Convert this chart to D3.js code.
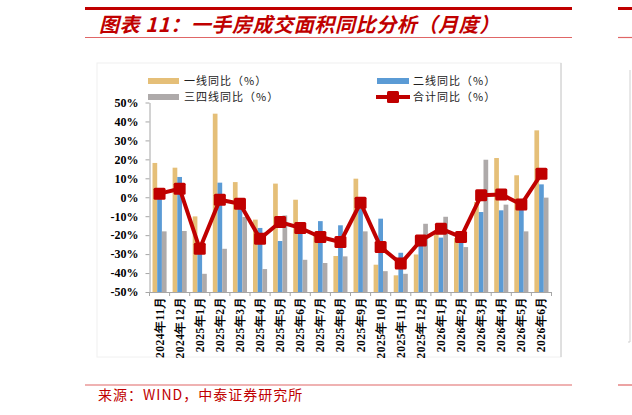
<!DOCTYPE html>
<html><head><meta charset="utf-8">
<script src="https://cdn.jsdelivr.net/npm/d3@7"></script>
<style>body{margin:0;background:#fff}svg{display:block}</style>
</head><body>
<script>
const categories = ["2024年11月","2024年12月","2025年1月","2025年2月","2025年3月","2025年4月","2025年5月","2025年6月","2025年7月","2025年8月","2025年9月","2025年10月","2025年11月","2025年12月","2026年1月","2026年2月","2026年3月","2026年4月","2026年5月","2026年6月"];
const tier1 = [18.1,15.6,-10.1,44.1,8.0,-11.8,7.2,-1.3,-20.0,-31.0,9.8,-35.6,-41.2,-30.2,-19.2,-21.5,-2.5,20.7,11.6,35.3];
const tier2 = [1.0,10.7,-29.0,7.7,-5.2,-16.2,-23.1,-13.1,-12.6,-14.8,-6.0,-11.3,-29.3,-25.4,-21.3,-23.6,-7.8,-6.9,-6.0,6.8];
const tier34 = [-18.0,-17.8,-40.4,-27.2,-10.4,-37.9,-9.6,-33.0,-34.7,-31.2,-18.0,-39.0,-40.4,-14.0,-10.3,-26.3,19.8,-3.9,-18.0,-0.2];
const total = [1.9,4.5,-27.2,-1.3,-3.4,-21.9,-13.1,-16.2,-21.0,-23.6,-2.9,-26.3,-35.0,-22.8,-16.6,-21.0,1.0,1.5,-3.8,12.4];
const yTicks = [-50,-40,-30,-20,-10,0,10,20,30,40,50];
const seriesNames = ["一线同比（%）","二线同比（%）","三四线同比（%）","合计同比（%）"];
const colors = {t1:"#E5BF78", t2:"#5B9BD5", t34:"#AEAAAA", total:"#C00000"};

const W=632,H=415;
const svg=d3.select("body").append("svg").attr("width",W).attr("height",H);

const red="#C00000", lightRed="#E06666";
svg.append("line").attr("x1",85).attr("x2",572).attr("y1",8.5).attr("y2",8.5).attr("stroke",red).attr("stroke-width",3);
svg.append("line").attr("x1",618).attr("x2",632).attr("y1",8.5).attr("y2",8.5).attr("stroke",red).attr("stroke-width",3);
svg.append("line").attr("x1",85).attr("x2",572).attr("y1",37.5).attr("y2",37.5).attr("stroke",lightRed).attr("stroke-width",1.2);
svg.append("line").attr("x1",618).attr("x2",632).attr("y1",37.5).attr("y2",37.5).attr("stroke",lightRed).attr("stroke-width",1.2);
svg.append("line").attr("x1",85).attr("x2",572).attr("y1",385).attr("y2",385).attr("stroke",lightRed).attr("stroke-width",1.2);
svg.append("line").attr("x1",618).attr("x2",632).attr("y1",385).attr("y2",385).attr("stroke",lightRed).attr("stroke-width",1.2);

svg.append("text").attr("x",99).attr("y",32)
  .attr("font-family","'Noto Sans CJK SC'").attr("font-weight","bold").attr("font-style","italic")
  .attr("font-size",20).attr("letter-spacing",0.6).attr("fill",red).text("图表 11：一手房成交面积同比分析（月度）");
svg.append("text").attr("x",98).attr("y",400)
  .attr("font-family","'Noto Sans CJK SC'").attr("font-size",14).attr("letter-spacing",1).attr("fill",red).text("来源：WIND，中泰证券研究所");

svg.append("rect").attr("x",97).attr("y",63).attr("width",464).attr("height",294).attr("fill","none").attr("stroke","#F0F0F0");
svg.append("line").attr("x1",561).attr("x2",561).attr("y1",63).attr("y2",357).attr("stroke","#C8C8C8");
svg.append("path").attr("d","M630,70V342H628").attr("fill","none").attr("stroke","#D0D0D0");

const x=d3.scaleBand().domain(categories).range([149.5,551.5]).padding(0);
const inner=d3.scaleBand().domain(["t1","t2","t34"]).range([0,x.bandwidth()]).paddingInner(0).paddingOuter(0.64);
const y=d3.scaleLinear().domain([-50,50]).range([292,102.5]);

// bars anchored at the axis minimum (-50%)
const rows=categories.map((c,i)=>({c,t1:tier1[i],t2:tier2[i],t34:tier34[i]}));
const g=svg.append("g");
["t1","t2","t34"].forEach(k=>{
  g.selectAll("rect."+k).data(rows).join("rect").attr("class",k)
   .attr("x",d=>x(d.c)+inner(k)).attr("width",inner.bandwidth())
   .attr("y",d=>y(d[k])).attr("height",d=>y(-50)-y(d[k]))
   .attr("fill",colors[k]);
});

const yAxis=svg.append("g").attr("transform","translate(149.5,0)")
  .call(d3.axisLeft(y).tickValues(yTicks).tickFormat(d=>d+"%").tickSize(4).tickSizeOuter(0));
yAxis.selectAll("path,line").attr("stroke","#A6A6A6");
yAxis.selectAll("text").attr("font-family","'Liberation Serif'").attr("font-weight","bold").attr("font-size",12).attr("fill","#000").attr("x",-11);

const xAxis=svg.append("g").attr("transform","translate(0,292)")
  .call(d3.axisBottom(x).tickSize(0).tickSizeOuter(0));
xAxis.select("path").attr("stroke","#A6A6A6");
xAxis.selectAll("text").attr("font-family","'Liberation Serif'").attr("font-weight","bold").attr("font-size",11.5).attr("fill","#000")
  .attr("transform","rotate(-90)").attr("text-anchor","end").attr("x",-4).attr("y",0).attr("dy","0.35em").attr("letter-spacing",0.5);
const bounds=categories.map(c=>x(c)).concat([x.range()[1]]);
svg.append("g").selectAll("line").data(bounds).join("line")
  .attr("x1",d=>d).attr("x2",d=>d).attr("y1",292).attr("y2",296).attr("stroke","#A6A6A6");

const line=d3.line().x((d,i)=>x(categories[i])+x.bandwidth()/2).y(d=>y(d));
svg.append("path").datum(total).attr("d",line).attr("fill","none").attr("stroke",colors.total).attr("stroke-width",4).attr("stroke-linejoin","round");
svg.append("g").selectAll("rect").data(total).join("rect")
  .attr("x",(d,i)=>x(categories[i])+x.bandwidth()/2-6).attr("y",d=>y(d)-6)
  .attr("width",12).attr("height",12).attr("rx",1.5).attr("fill",colors.total);

const lg=svg.append("g").attr("font-family","'Noto Sans CJK SC'").attr("font-size",11).attr("letter-spacing",1).attr("fill","#222");
lg.append("rect").attr("x",148).attr("y",78).attr("width",31).attr("height",6).attr("fill",colors.t1);
lg.append("text").attr("x",184).attr("y",85).text(seriesNames[0]);
lg.append("rect").attr("x",148).attr("y",94).attr("width",31).attr("height",6).attr("fill",colors.t34);
lg.append("text").attr("x",184).attr("y",101).text(seriesNames[2]);
lg.append("rect").attr("x",377).attr("y",78).attr("width",32).attr("height",6).attr("fill",colors.t2);
lg.append("text").attr("x",413).attr("y",85).text(seriesNames[1]);
lg.append("line").attr("x1",376).attr("x2",410).attr("y1",97).attr("y2",97).attr("stroke",colors.total).attr("stroke-width",4);
lg.append("rect").attr("x",387).attr("y",91).attr("width",12).attr("height",12).attr("rx",1.5).attr("fill",colors.total);
lg.append("text").attr("x",413).attr("y",101).text(seriesNames[3]);
</script>
</body></html>
